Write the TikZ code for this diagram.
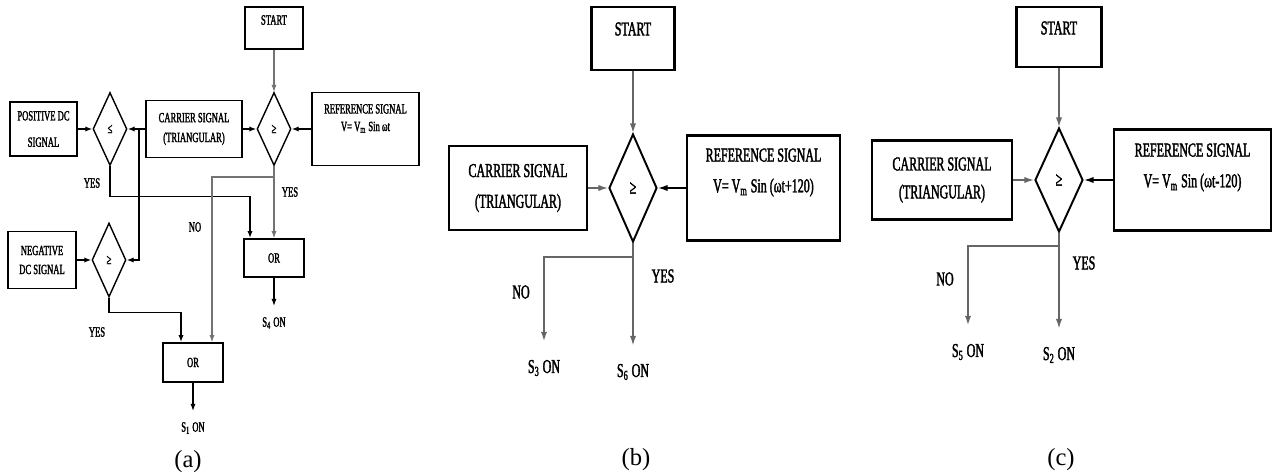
\documentclass[tikz,border=0pt]{standalone}
\usepackage{fontspec}
\setmainfont{Liberation Serif}
\newfontfamily\flowfont[FakeStretch=0.61,FakeBold=1.8]{Liberation Serif}
\usetikzlibrary{shapes.geometric, arrows.meta, positioning}

\tikzset{
  box/.style={draw, line width=1.1pt, inner sep=1pt, align=center},
  boxB/.style={draw, line width=1.4pt, inner sep=1pt, align=center},
  cmp/.style={diamond, draw, line width=0.8pt, inner sep=0pt},
  cmpB/.style={diamond, draw, line width=1.1pt, inner sep=0pt},
  fA/.style={font=\flowfont\fontsize{8}{10}\selectfont},
  fB/.style={font=\flowfont\fontsize{11.2}{13.5}\selectfont},
  lbl/.style={inner sep=0pt, align=center},
  outA/.style={lbl, fA, outer ysep=6.5pt},
  outB/.style={lbl, fB, outer ysep=10.5pt},
  flow/.style={draw=black!55, line width=0.6pt, -{Latex[length=4pt,width=3pt]}},
  flowk/.style={draw=black, line width=0.7pt, -{Latex[length=4pt,width=3pt]}},
  flowB/.style={draw=black!60, line width=0.9pt, -{Latex[length=5.5pt,width=3.6pt]}},
  subcap/.style={inner sep=0pt, font=\fontsize{14}{16}\selectfont}
}

\begin{document}
\begin{tikzpicture}[x=0.02cm, y=-0.02cm]
  \useasboundingbox (0,0) rectangle (1286,475);

  % (a) bloques
  \node[box, fA, minimum width=1.16cm, minimum height=0.84cm] (startA) at (274,28) {};
  \node[lbl, fA] (startAtxt) at (274,20) {START};
  \node[cmp, fA, minimum width=0.68cm, minimum height=1.46cm] (cmpA) at (274,129) {≥};
  \node[box, fA, minimum width=2.14cm, minimum height=1.46cm] (refA) at (365.5,129) {};
  \node[lbl, fA] (refAtxt) at (365.5,118.5) {REFERENCE SIGNAL\\V= V\textsubscript{m} Sin ωt};
  \node[box, fA, minimum width=1.92cm, minimum height=1.14cm] (carA) at (194,129) {CARRIER SIGNAL\\[1.3pt](TRIANGULAR)};
  \node[cmp, fA, minimum width=0.68cm, minimum height=1.46cm] (lessA) at (110,129) {≤};
  \node[box, fA, minimum width=1.34cm, minimum height=1.08cm] (posA) at (43.5,129) {POSITIVE DC\\[5pt]SIGNAL};
  \node[box, fA, minimum width=1.36cm, minimum height=1.14cm] (negA) at (42,260) {NEGATIVE\\[0.8pt]DC SIGNAL};
  \node[cmp, fA, minimum width=0.68cm, minimum height=1.48cm] (geqA) at (109,260) {≥};
  \node[box, fA, minimum width=1.2cm, minimum height=0.76cm] (orA1) at (274,258) {OR};
  \node[box, fA, minimum width=1.2cm, minimum height=0.78cm] (orA2) at (193,362.5) {OR};
  \node[outA] (s4A) at (274,323) {S\textsubscript{4} ON};
  \node[outA] (s1A) at (193,428) {S\textsubscript{1} ON};

  % (a) etiquetas
  \node[lbl, fA] (yesA1) at (92,183) {YES};
  \node[lbl, fA] (yesA2) at (290,192) {YES};
  \node[lbl, fA] (noA) at (195,227) {NO};
  \node[lbl, fA] (yesA3) at (97,332) {YES};
  \node[subcap] (capA) at (188,462) {(a)};

  % (a) conexiones
  \coordinate (brA) at (139,129);
  \coordinate (brAno) at (274,177);
  \draw[flow] (startA) -- (cmpA);
  \draw[flowk] (refA.west) -- (cmpA.east);
  \draw[flowk] (carA.east) -- (cmpA.west);
  \draw[flowk] (carA.west) -- (lessA.east);
  \draw[flowk] (posA.east) -- (lessA.west);
  \draw[flowk] (brA) |- (geqA.east);
  \draw[flowk] (negA.east) -- (geqA.west);
  \draw[flowk] (lessA.south) -- ++(0,30) -| ([xshift=-0.48cm]orA1.north);
  \draw[flow] (cmpA.south) -- (orA1.north);
  \draw[flow] (brAno) -| ([xshift=0.38cm]orA2.north);
  \draw[flowk] (geqA.south) -- ++(0,15) -| ([xshift=-0.24cm]orA2.north);
  \draw[flowk] (orA1) -- (s4A);
  \draw[flowk] (orA2) -- (s1A);

  % (b) bloques
  \node[boxB, fB, minimum width=1.66cm, minimum height=1.26cm] (startB) at (633,38.5) {};
  \node[lbl, fB] (startBtxt) at (633,29) {START};
  \node[cmpB, fB, minimum width=0.96cm, minimum height=2.16cm] (cmpB) at (633,188) {≥};
  \node[boxB, fB, minimum width=2.76cm, minimum height=1.68cm] (carB) at (518,188) {CARRIER SIGNAL\\[4pt](TRIANGULAR)};
  \node[boxB, fB, minimum width=3.06cm, minimum height=2.1cm] (refB) at (763.5,188) {};
  \node[lbl, fB] (refBtxt) at (763.5,172.5) {REFERENCE SIGNAL\\[4pt]V= V\textsubscript{m} Sin (ωt+120)};
  \node[outB] (s3B) at (544,368) {S\textsubscript{3} ON};
  \node[outB] (s6B) at (633,372) {S\textsubscript{6} ON};

  % (b) etiquetas
  \node[lbl, fB] (noB) at (521,292) {NO};
  \node[lbl, fB] (yesB) at (663,276) {YES};
  \node[subcap] (capB) at (636,460) {(b)};

  % (b) conexiones
  \coordinate (brB) at (633,257);
  \draw[flowB] (startB) -- (cmpB);
  \draw[flowB] (carB.east) -- (cmpB.west);
  \draw[flowB, draw=black] (refB.west) -- (cmpB.east);
  \draw[flowB] (cmpB.south) -- (s6B);
  \draw[flowB, line width=1.3pt] (brB) -| (s3B);

  % (c) bloques
  \node[boxB, fB, minimum width=1.7cm, minimum height=1.2cm] (startC) at (1059,37) {};
  \node[lbl, fB] (startCtxt) at (1059,28) {START};
  \node[cmpB, fB, minimum width=0.96cm, minimum height=2.08cm] (cmpC) at (1059,180) {≥};
  \node[boxB, fB, minimum width=2.8cm, minimum height=1.58cm] (carC) at (942,180) {CARRIER SIGNAL\\[2.4pt](TRIANGULAR)};
  \node[boxB, fB, minimum width=3.14cm, minimum height=2.02cm] (refC) at (1192.5,180) {};
  \node[lbl, fB] (refCtxt) at (1192.5,167.5) {REFERENCE SIGNAL\\[4pt]V= V\textsubscript{m} Sin (ωt-120)};
  \node[outB] (s5C) at (968,352) {S\textsubscript{5} ON};
  \node[outB] (s2C) at (1059,355) {S\textsubscript{2} ON};

  % (c) etiquetas
  \node[lbl, fB] (noC) at (945,279) {NO};
  \node[lbl, fB] (yesC) at (1084,263) {YES};
  \node[subcap] (capC) at (1061,460) {(c)};

  % (c) conexiones
  \coordinate (brC) at (1059,246);
  \draw[flowB] (startC) -- (cmpC);
  \draw[flowB] (carC.east) -- (cmpC.west);
  \draw[flowB, draw=black] (refC.west) -- (cmpC.east);
  \draw[flowB] (cmpC.south) -- (s2C);
  \draw[flowB, line width=1.3pt] (brC) -| (s5C);
\end{tikzpicture}
\end{document}
